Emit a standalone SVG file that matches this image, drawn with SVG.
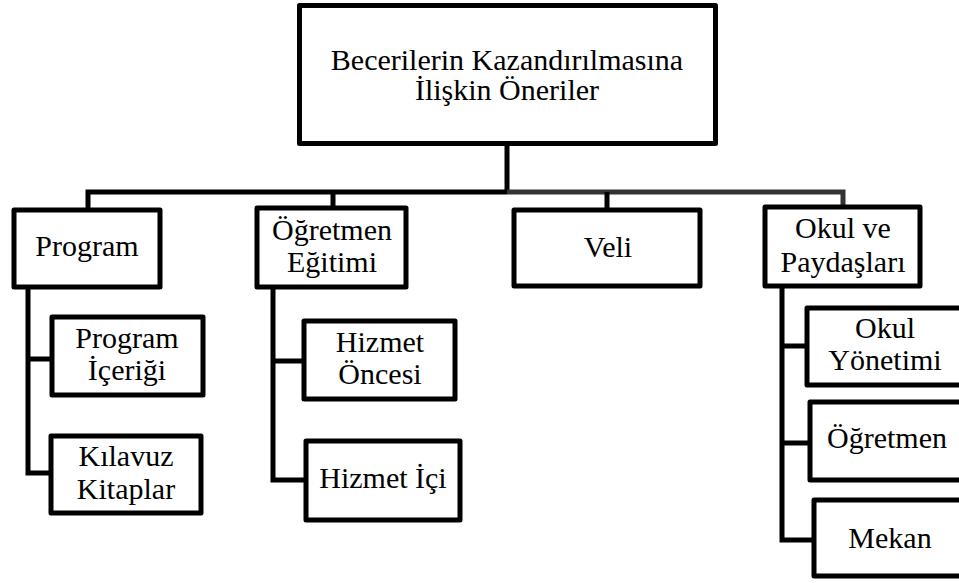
<svg xmlns="http://www.w3.org/2000/svg" width="959" height="583" viewBox="0 0 959 583">
<defs>
<style>
.box{fill:#fff;stroke:#000;stroke-width:5;stroke-linejoin:round}
.c{fill:none;stroke:#000;stroke-width:5}
.cg{fill:none;stroke:#333;stroke-width:5}
text{font-family:'Liberation Serif','Times New Roman',Times,serif;font-size:30px;text-anchor:middle;fill:#000}
</style>
</defs>
<rect width="959" height="583" fill="#fff"/>
<g id="connectors">
<path class="c" d="M507,146V192M88,208V192H507"/>
<path class="cg" d="M507,192H843V205"/>
<path class="c" d="M333,192V206M607,192V208"/>
<path class="c" d="M28,289V473H50M28,359H50"/>
<path class="c" d="M273,289V480H305M273,361H303"/>
<path class="c" d="M782,288V540H812M782,346H807M782,443H809"/>
</g>
<g id="root"><rect class="box" x="299.5" y="5.5" width="416" height="138"/>
<text x="507" y="70" font-family="Liberation Serif">Becerilerin Kazandırılmasına</text>
<text x="507" y="100" font-family="Liberation Serif">İlişkin Öneriler</text></g>
<g id="program"><rect class="box" x="14" y="210" width="146" height="77"/>
<text x="87" y="256" font-family="Liberation Serif">Program</text></g>
<g id="ogretmen-egitimi"><rect class="box" x="257" y="208" width="149" height="79"/>
<text x="332" y="240" font-family="Liberation Serif">Öğretmen</text>
<text x="332" y="272" font-family="Liberation Serif">Eğitimi</text></g>
<g id="veli"><rect class="box" x="514" y="210" width="186" height="76"/>
<text x="608" y="257" font-family="Liberation Serif">Veli</text></g>
<g id="okul"><rect class="box" x="765" y="207" width="155" height="79"/>
<text x="843" y="238" font-family="Liberation Serif">Okul ve</text>
<text x="843" y="272" font-family="Liberation Serif">Paydaşları</text></g>
<g id="program-icerigi"><rect class="box" x="52" y="317" width="151" height="78"/>
<text x="127" y="348" font-family="Liberation Serif">Program</text>
<text x="127" y="380" font-family="Liberation Serif">İçeriği</text></g>
<g id="kilavuz"><rect class="box" x="51" y="436" width="150" height="77"/>
<text x="126" y="466" font-family="Liberation Serif">Kılavuz</text>
<text x="126" y="499" font-family="Liberation Serif">Kitaplar</text></g>
<g id="hizmet-oncesi"><rect class="box" x="304" y="321" width="151" height="78"/>
<text x="380" y="352" font-family="Liberation Serif">Hizmet</text>
<text x="380" y="384" font-family="Liberation Serif">Öncesi</text></g>
<g id="hizmet-ici"><rect class="box" x="306" y="441" width="154" height="79"/>
<text x="383" y="488" font-family="Liberation Serif">Hizmet İçi</text></g>
<g id="okul-yonetimi"><rect class="box" x="807" y="308" width="200" height="77"/>
<text x="885" y="338" font-family="Liberation Serif">Okul</text>
<text x="885" y="370" font-family="Liberation Serif">Yönetimi</text></g>
<g id="ogretmen"><rect class="box" x="810" y="402" width="200" height="78"/>
<text x="887" y="448" font-family="Liberation Serif">Öğretmen</text></g>
<g id="mekan"><rect class="box" x="814" y="500" width="200" height="76"/>
<text x="890" y="548" font-family="Liberation Serif">Mekan</text></g>
</svg>
